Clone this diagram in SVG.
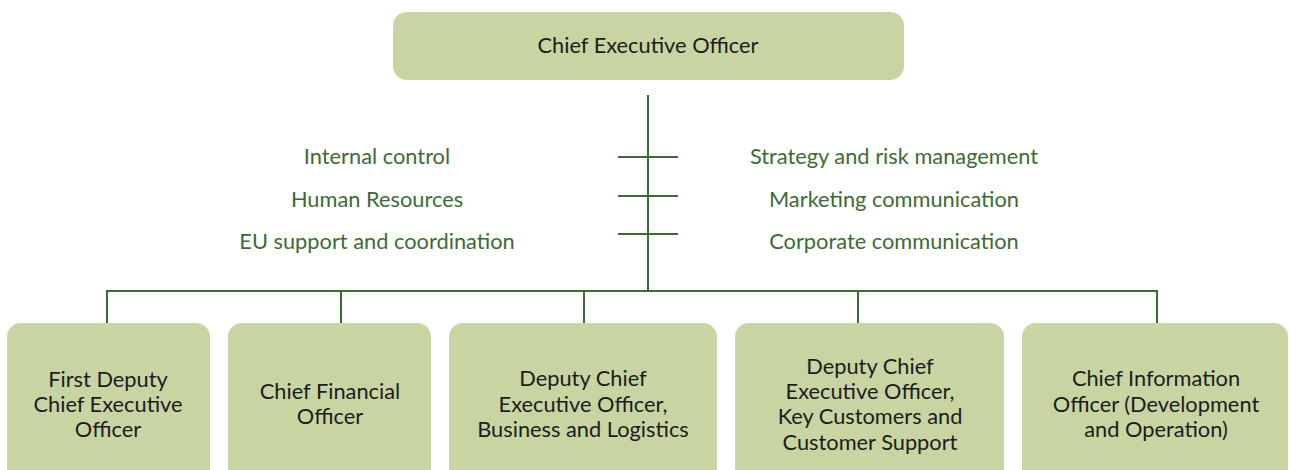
<svg xmlns="http://www.w3.org/2000/svg" width="1290" height="470" viewBox="0 0 1290 470">
<style>
.box{fill:#c8d5a2;}
.t{font-family:Lato,"Open Sans",sans-serif;font-size:21.8px;fill:#1c1c1c;text-anchor:middle;}
.g{font-family:Lato,"Open Sans",sans-serif;font-size:21.8px;fill:#3d6b35;text-anchor:middle;}
.ln{stroke:#3d6b35;stroke-width:2;fill:none;}
</style>
<rect width="1290" height="470" fill="#ffffff"/>
<g id="connectors">
<path class="ln" d="M648,95 V291"/>
<path class="ln" d="M618,157 H678 M618,196 H678 M618,234 H678"/>
<path class="ln" d="M107,323 V291 H1157 V323"/>
<path class="ln" d="M341,291 V323 M584,291 V323 M858,291 V323"/>
</g>
<g id="labels">
<text class="g" x="377" y="164">Internal control</text>
<text class="g" x="377" y="207">Human Resources</text>
<text class="g" x="377" y="249">EU support and coordination</text>
<text class="g" x="894" y="164">Strategy and risk management</text>
<text class="g" x="894" y="207">Marketing communication</text>
<text class="g" x="894" y="249">Corporate communication</text>
</g>
<g id="ceo">
<rect class="box" x="393" y="12" width="511" height="68" rx="14"/>
<text class="t" x="648" y="53">Chief Executive Officer</text>
</g>
<g id="first-deputy">
<rect class="box" x="7" y="323" width="203" height="160" rx="14"/>
<text class="t" x="108" y="387">First Deputy</text>
<text class="t" x="108" y="412">Chief Executive</text>
<text class="t" x="108" y="437">Officer</text>
</g>
<g id="cfo">
<rect class="box" x="228" y="323" width="203" height="160" rx="14"/>
<text class="t" x="330" y="399">Chief Financial</text>
<text class="t" x="330" y="424">Officer</text>
</g>
<g id="deputy-business">
<rect class="box" x="449" y="323" width="268" height="160" rx="14"/>
<text class="t" x="583" y="386">Deputy Chief</text>
<text class="t" x="583" y="412">Executive Officer,</text>
<text class="t" x="583" y="437">Business and Logistics</text>
</g>
<g id="deputy-customers">
<rect class="box" x="735" y="323" width="269" height="160" rx="14"/>
<text class="t" x="870" y="374">Deputy Chief</text>
<text class="t" x="870" y="399">Executive Officer,</text>
<text class="t" x="870" y="424">Key Customers and</text>
<text class="t" x="870" y="450">Customer Support</text>
</g>
<g id="cio">
<rect class="box" x="1022" y="323" width="266" height="160" rx="14"/>
<text class="t" x="1156" y="386">Chief Information</text>
<text class="t" x="1156" y="412">Officer (Development</text>
<text class="t" x="1156" y="437">and Operation)</text>
</g>
</svg>
